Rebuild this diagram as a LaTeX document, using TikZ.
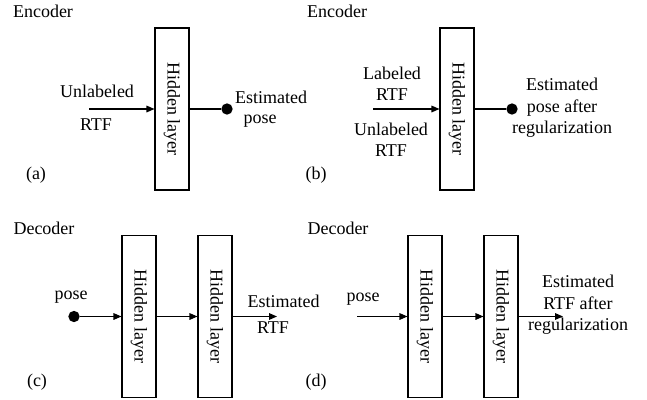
\documentclass[tikz,border=0pt]{standalone}
\usepackage{fontspec}
\setmainfont{Liberation Serif}
\usetikzlibrary{arrows.meta, positioning}

\begin{document}
\begin{tikzpicture}[x=0.75pt, y=-0.75pt, font=\fontsize{13.5}{16}\selectfont]

\tikzstyle{hidden} = [rectangle, draw=black, line width=0.8pt, rotate=-90, minimum width=121.5pt, minimum height=25.5pt, inner sep=0pt]
\tikzstyle{dot} = [circle, fill=black, minimum size=8.5pt, inner sep=0pt]
\tikzstyle{arrow} = [line width=0.8pt, -{Triangle[length=6pt, width=5pt]}]
\tikzstyle{link} = [line width=0.8pt]

\useasboundingbox (0,0) rectangle (647,400);

% (a) encoder
\node (enc_a) at (43,11) {Encoder};
\node (hid_a)[hidden] at (172,109) {Hidden layer};
\coordinate (in_a) at (89,109);
\node (unl_a) at (97,91) {Unlabeled};
\node (rtf_a) at (96,125) {RTF};
\node (dot_a)[dot] at (227,109) {};
\node (est_a) at (271,97) {Estimated};
\node (pose_a) at (260,121) {pose};
\node (tag_a) at (36,175) {(a)};

% (b) encoder with regularization
\node (enc_b) at (337,11) {Encoder};
\node (hid_b)[hidden] at (457,109) {Hidden layer};
\coordinate (in_b) at (373,109);
\node (lab_b)[align=center] at (392,84) {Labeled\\RTF};
\node (unl_b)[align=center] at (391,140) {Unlabeled\\RTF};
\node (dot_b)[dot] at (512,109) {};
\node (est_b)[align=center] at (562,108) {Estimated\\pose after\\regularization};
\node (tag_b) at (316,175) {(b)};

% (c) decoder
\node (dec_c) at (44,228) {Decoder};
\node (hid_c1)[hidden] at (139,316.5) {Hidden layer};
\node (hid_c2)[hidden] at (215,316.5) {Hidden layer};
\node (dot_c)[dot] at (74,316.5) {};
\node (pose_c) at (71,297) {pose};
\coordinate (out_c) at (277,316.5);
\node (est_c) at (283.5,301) {Estimated};
\node (rtf_c) at (273,328) {RTF};
\node (tag_c) at (37,382) {(c)};

% (d) decoder with regularization
\node (dec_d) at (338,228) {Decoder};
\node (hid_d1)[hidden] at (425,316.5) {Hidden layer};
\node (hid_d2)[hidden] at (501,316.5) {Hidden layer};
\coordinate (in_d) at (357,316.5);
\node (pose_d) at (363,299) {pose};
\coordinate (out_d) at (563,316.5);
\node (est_d)[align=center] at (578,305) {Estimated\\RTF after\\regularization};
\node (tag_d) at (316,382) {(d)};

% arrows
\draw[arrow] (in_a) -- (hid_a);
\draw[link] (hid_a) -- (dot_a);

\draw[arrow] (in_b) -- (hid_b);
\draw[link] (hid_b) -- (dot_b);

\draw[arrow] (dot_c) -- (hid_c1);
\draw[arrow] (hid_c1) -- (hid_c2);
\draw[arrow] (hid_c2) -- (out_c);

\draw[arrow] (in_d) -- (hid_d1);
\draw[arrow] (hid_d1) -- (hid_d2);
\draw[arrow] (hid_d2) -- (out_d);

\end{tikzpicture}
\end{document}
